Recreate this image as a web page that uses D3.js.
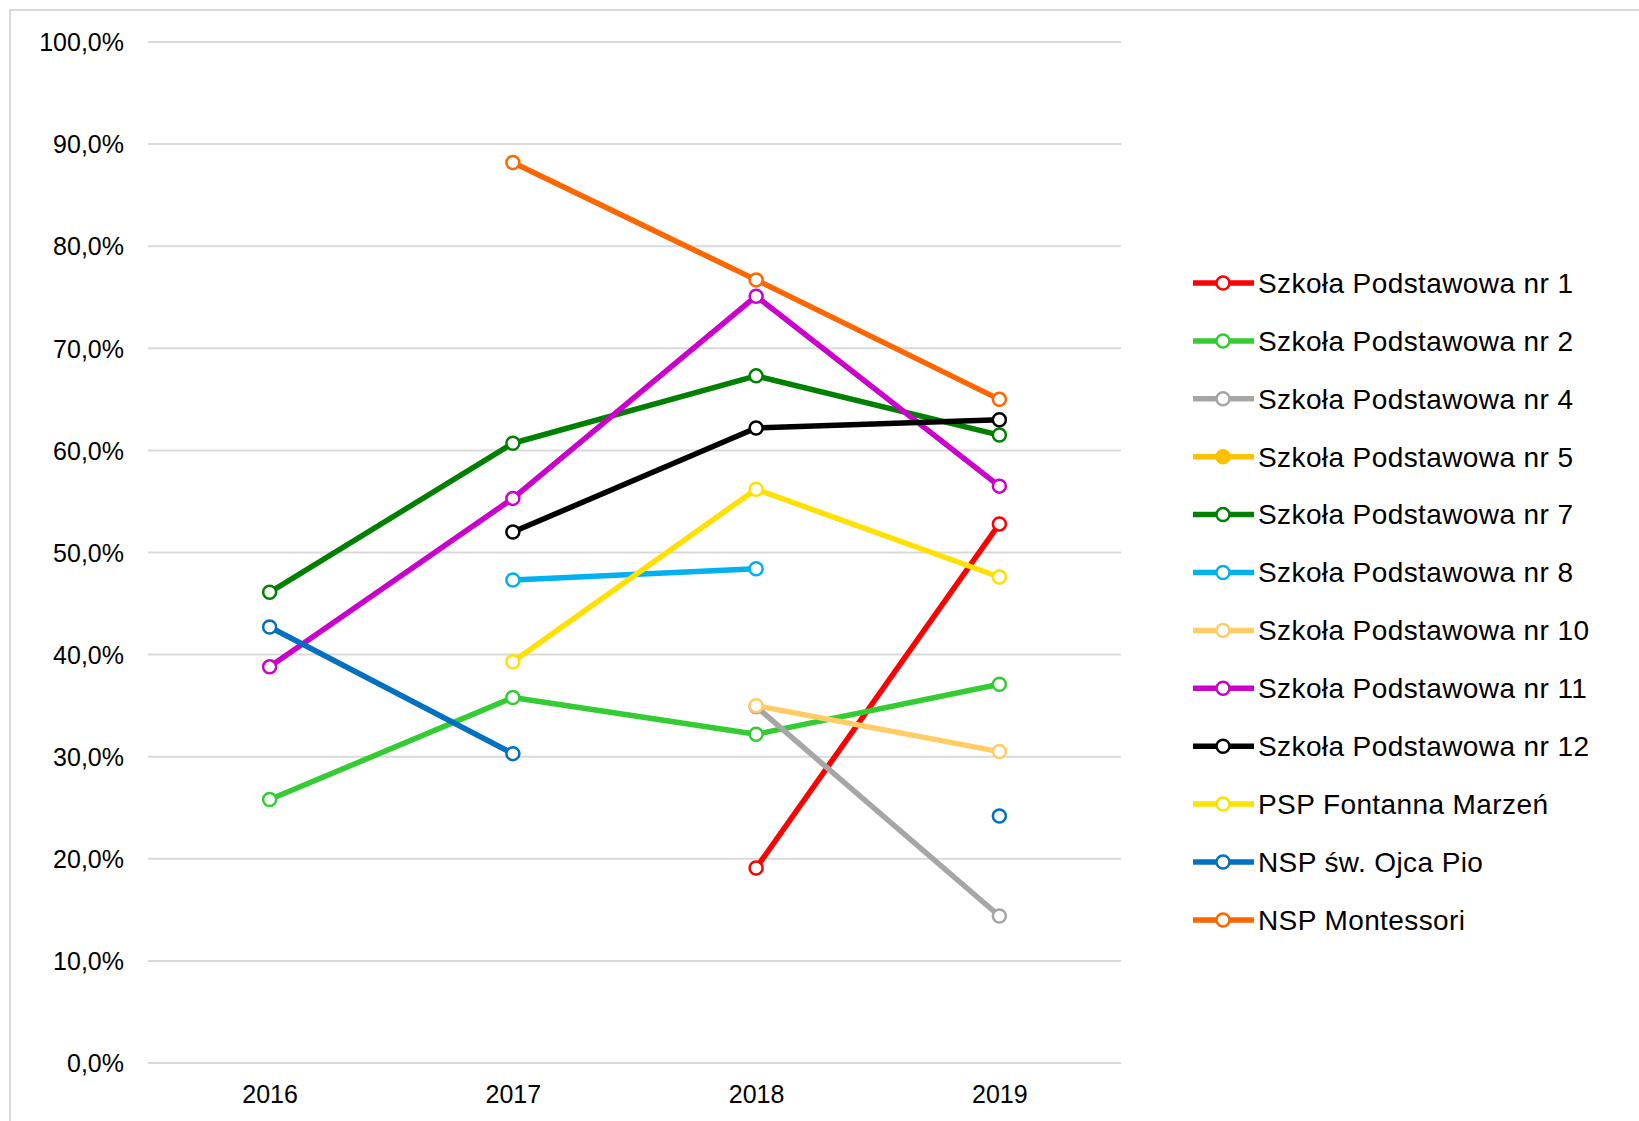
<!DOCTYPE html>
<html>
<head>
<meta charset="utf-8">
<script src="https://cdn.jsdelivr.net/npm/d3@7"></script>
<style>
  body { margin: 0; background: #fff; }
  svg text { font-family: "Liberation Sans", Arial, sans-serif; fill: #000; }
</style>
</head>
<body>
<svg id="chart" width="1639" height="1121"></svg>
<script>
// data (percent), null = no value
var years = ["2016", "2017", "2018", "2019"];
var yTicks = [0, 10, 20, 30, 40, 50, 60, 70, 80, 90, 100];

var seriesNames = ["Szkoła Podstawowa nr 1", "Szkoła Podstawowa nr 2", "Szkoła Podstawowa nr 4",
    "Szkoła Podstawowa nr 5", "Szkoła Podstawowa nr 7", "Szkoła Podstawowa nr 8",
    "Szkoła Podstawowa nr 10", "Szkoła Podstawowa nr 11", "Szkoła Podstawowa nr 12",
    "PSP Fontanna Marzeń", "NSP św. Ojca Pio", "NSP Montessori"];

var sp1  = [null, null, 19.1, 52.8];
var sp2  = [25.8, 35.8, 32.2, 37.1];
var sp4  = [null, null, 34.9, 14.4];
var sp5  = [null, null, null, null];
var sp7  = [46.1, 60.7, 67.3, 61.5];
var sp8  = [null, 47.3, 48.4, null];
var sp10 = [null, null, 35.0, 30.5];
var sp11 = [38.8, 55.3, 75.1, 56.5];
var sp12 = [null, 52.0, 62.2, 63.0];
var psp  = [null, 39.3, 56.2, 47.6];
var pio  = [42.7, 30.3, null, 24.2];
var mont = [null, 88.2, 76.7, 65.0];

var seriesValues = [sp1, sp2, sp4, sp5, sp7, sp8, sp10, sp11, sp12, psp, pio, mont];
var colors = ["#ff0000", "#33cc33", "#a6a6a6", "#ffc000", "#008000", "#00b0f0",
    "#ffcc66", "#cc00cc", "#000000", "#ffe000", "#0070c0", "#ff6600"];

var svg = d3.select("#chart");

// outer frame
svg.append("rect")
    .attr("x", 10).attr("y", 10)
    .attr("width", 1660).attr("height", 1140)
    .attr("fill", "none")
    .attr("stroke", "#d9d9d9")
    .attr("stroke-width", 2);

var x = d3.scalePoint()
    .domain(years)
    .range([148, 1121])
    .padding(0.5);

var y = d3.scaleLinear()
    .domain([0, 100])
    .range([1063, 42]);

// gridlines
svg.append("g")
    .selectAll("line")
    .data(yTicks)
    .enter().append("line")
    .attr("x1", 148).attr("x2", 1121)
    .attr("y1", function(d) { return y(d); })
    .attr("y2", function(d) { return y(d); })
    .attr("stroke", "#d9d9d9")
    .attr("stroke-width", 2);

// y axis labels
var yAxis = d3.axisLeft(y)
    .tickValues(yTicks)
    .tickSize(0)
    .tickPadding(0)
    .tickFormat(function(d) { return d3.format(".1f")(d).replace(".", ",") + "%"; });

svg.append("g")
    .attr("transform", "translate(124,0)")
    .call(yAxis)
    .call(function(g) { g.select(".domain").remove(); })
    .selectAll("text")
    .attr("font-size", 25)
    .attr("dy", "0.35em");

// x axis labels
var xAxis = d3.axisBottom(x).tickSize(0).tickPadding(0);

svg.append("g")
    .attr("transform", "translate(0,1085)")
    .call(xAxis)
    .call(function(g) { g.select(".domain").remove(); })
    .selectAll("text")
    .attr("font-size", 25)
    .attr("dy", "0.71em");

var line = d3.line()
    .defined(function(d) { return d != null; })
    .x(function(d, i) { return x(years[i]); })
    .y(function(d) { return y(d); });

seriesValues.forEach(function(vals, s) {
    var g = svg.append("g").attr("class", "series");

    g.append("path")
        .datum(vals)
        .attr("d", line)
        .attr("fill", "none")
        .attr("stroke", colors[s])
        .attr("stroke-width", 5.5)
        .attr("stroke-linejoin", "round");

    g.selectAll("circle")
        .data(vals.map(function(v, i) { return {v: v, i: i}; })
                  .filter(function(d) { return d.v != null; }))
        .enter().append("circle")
        .attr("cx", function(d) { return x(years[d.i]); })
        .attr("cy", function(d) { return y(d.v); })
        .attr("r", 6.5)
        .attr("fill", "#fff")
        .attr("stroke", colors[s])
        .attr("stroke-width", 2.5);
});

// legend
var legend = svg.append("g")
    .selectAll("g")
    .data(seriesNames)
    .enter().append("g")
    .attr("transform", function(d, i) { return "translate(0," + (283 + i * 57.9) + ")"; });

legend.append("line")
    .attr("x1", 1193).attr("x2", 1254)
    .attr("stroke", function(d, i) { return colors[i]; })
    .attr("stroke-width", 5.5);

legend.append("circle")
    .attr("cx", 1223)
    .attr("r", 6.5)
    .attr("fill", function(d, i) { return i == 3 ? colors[i] : "#fff"; })
    .attr("stroke", function(d, i) { return colors[i]; })
    .attr("stroke-width", 2.5);

legend.append("text")
    .attr("x", 1258)
    .attr("dy", "0.35em")
    .attr("font-size", 28)
    .attr("letter-spacing", 0.4)
    .text(function(d) { return d; });
</script>
</body>
</html>
